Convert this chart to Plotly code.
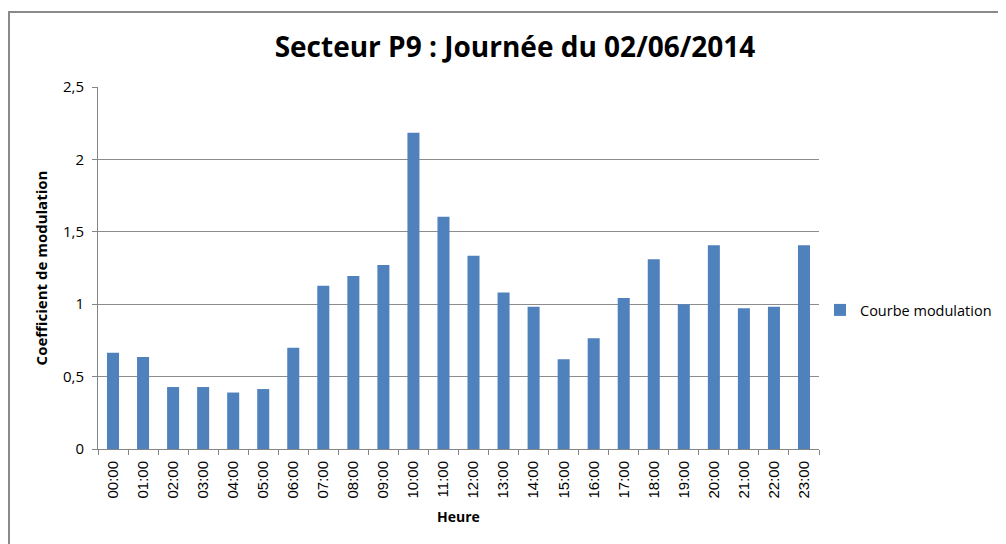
import plotly.graph_objects as go

hours = ["00:00", "01:00", "02:00", "03:00", "04:00", "05:00", "06:00", "07:00",
         "08:00", "09:00", "10:00", "11:00", "12:00", "13:00", "14:00", "15:00",
         "16:00", "17:00", "18:00", "19:00", "20:00", "21:00", "22:00", "23:00"]
coef = [0.665, 0.635, 0.428, 0.428, 0.39, 0.414, 0.70, 1.128,
        1.195, 1.27, 2.184, 1.604, 1.335, 1.08, 0.983, 0.62,
        0.764, 1.043, 1.31, 1.0, 1.407, 0.972, 0.983, 1.407]
series_name = "Courbe modulation"
title_text = "Secteur P9 : Journée du 02/06/2014"
x_title = "Heure"
y_title = "Coefficient de modulation"

OFF = 8  # page body margin
W, H = 1006 - OFF, 544 - OFF
# target plot area in screenshot pixels: x 98..819, y 87..449
L, T = 98 - OFF, 87 - OFF
R = W - (819 - OFF)
B = H - (449 - OFF)
pw, ph = W - L - R, H - T - B

def px_x(p):
    return (p - OFF - L) / pw

def px_y(p):
    return (H - B - (p - OFF)) / ph

fig = go.Figure()
fig.add_trace(go.Bar(x=hours, y=coef, name=series_name,
                     marker=dict(color="#4F81BD", line=dict(width=0))))

fig.update_layout(
    width=W, height=H,
    margin=dict(l=L, r=R, t=T, b=B, autoexpand=False),
    paper_bgcolor="white", plot_bgcolor="white",
    separators=", ",
    bargap=0.6,
    showlegend=True,
    title=dict(text="<b>" + title_text + "</b>", x=px_x(515), xanchor="center",
               xref="paper", y=1 - (47 - OFF) / H, yanchor="middle",
               font=dict(family="Open Sans", size=28, color="black")),
    legend=dict(x=px_x(820), xanchor="left", y=px_y(310), yanchor="middle",
                font=dict(family="Open Sans", size=14.5, color="black"),
                bgcolor="rgba(0,0,0,0)", itemwidth=30),
    xaxis=dict(
        type="category", automargin=False,
        tickangle=-90,
        ticks="outside", ticklen=5, tickcolor="#868686", tickson="boundaries",
        showline=True, linecolor="#868686", linewidth=1,
        showgrid=False, ticklabelstandoff=5,
        tickfont=dict(family="Liberation Sans", size=15, color="black"),
        title=dict(text="<b>" + x_title + "</b>", standoff=14,
                   font=dict(family="Open Sans", size=14, color="black")),
    ),
    yaxis=dict(
        range=[0, 2.5], dtick=0.5, tick0=0, automargin=False,
        ticks="outside", ticklen=5, tickcolor="#868686",
        showline=True, linecolor="#868686", linewidth=1,
        showgrid=True, gridcolor="#8c8c8c", gridwidth=1,
        zeroline=False, ticklabelstandoff=5,
        tickfont=dict(family="Open Sans", size=15, color="black"),
        title=dict(text="<b>" + y_title + "</b>", standoff=11,
                   font=dict(family="Open Sans", size=15, color="black")),
    ),
)

fig.add_shape(type="rect", xref="paper", yref="paper",
              x0=px_x(9), x1=px_x(1014), y0=px_y(556), y1=px_y(12),
              line=dict(color="#8a8a8a", width=2), fillcolor="rgba(0,0,0,0)",
              layer="below")

fig.write_html("out.html")
